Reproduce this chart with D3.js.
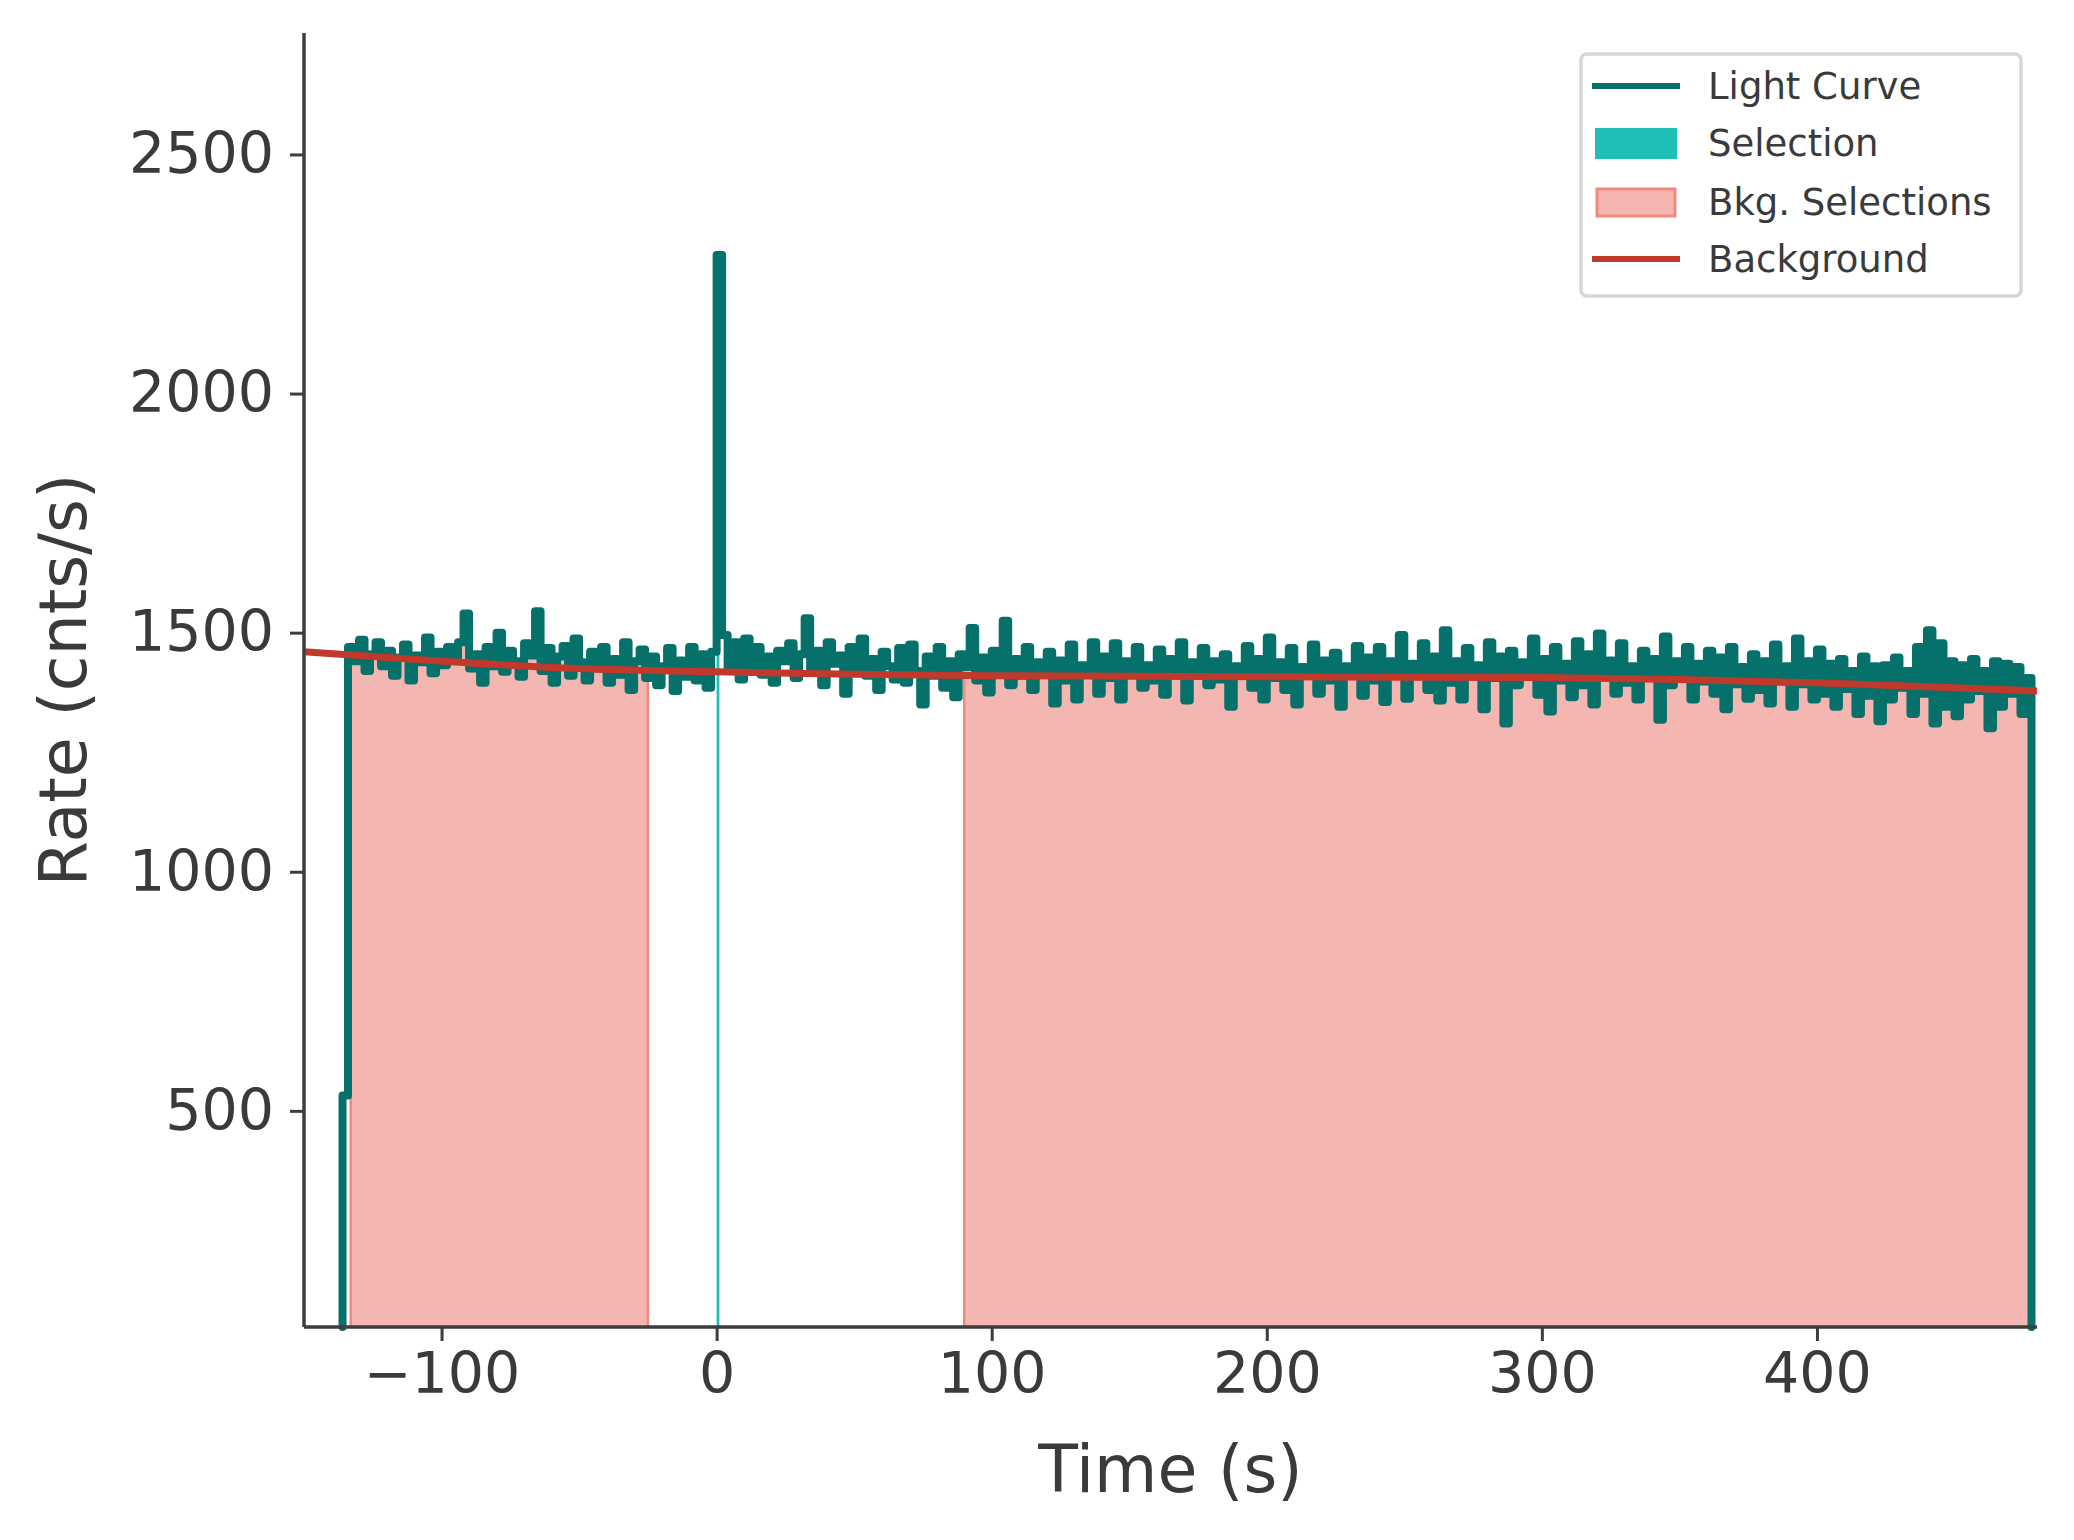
<!DOCTYPE html>
<html>
<head>
<meta charset="utf-8">
<script src="https://cdn.jsdelivr.net/npm/d3@7"></script>
<style>
  body { margin: 0; background: #fff; }
  text { font-family: "DejaVu Sans", sans-serif; fill: #3a3a3a; }
</style>
</head>
<body>
<svg id="chart" width="2074" height="1540"></svg>
<script>
// light curve, 2 s bins starting at -136 s
var binStart = -136, binWidth = 2;
var lcRate = [
  532,
  1470,1440,1485,1420,1455,1480,1430,1462,1410,1448,1475,1400,1452,1438,1490,1415,1460,1432,1470,
  1445,1480,1540,1425,1455,1395,1470,1430,1500,1418,1462,1440,1408,1478,1452,1545,1420,1468,1395,1450,
  1472,1410,1488,1438,1400,1460,1425,1470,1395,1445,1412,1480,1380,1440,1465,1405,1450,1390,1430,1468,
  1378,1442,1408,1470,1400,1455,1385,1460,2290,1495,1420,1480,1402,1488,1430,1470,1412,1450,1395,1462,
  1440,1478,1405,1455,1530,1418,1462,1390,1480,1435,1452,1372,1470,1425,1488,1410,1445,1380,1460,1430,
  1402,1468,1395,1475,1420,1350,1450,1410,1470,1385,1440,1365,1455,1428,1510,1400,1448,1375,1462,1420,
  1525,1390,1445,1410,1470,1380,1438,1420,1460,1352,1442,1400,1475,1360,1432,1415,1480,1372,1450,1405,
  1478,1360,1440,1418,1470,1385,1432,1400,1465,1370,1445,1412,1480,1358,1438,1420,1468,1390,1440,1402,
  1455,1345,1430,1410,1472,1385,1445,1360,1490,1405,1438,1380,1468,1350,1428,1415,1475,1372,1442,1400,
  1458,1345,1430,1420,1472,1368,1448,1400,1470,1355,1440,1412,1495,1362,1435,1410,1478,1380,1450,1358,
  1505,1395,1440,1360,1468,1410,1432,1340,1480,1405,1450,1310,1462,1390,1438,1420,1488,1370,1445,1335,
  1470,1400,1435,1365,1482,1390,1455,1350,1498,1410,1442,1372,1478,1395,1430,1360,1462,1405,1445,1318,
  1492,1390,1440,1410,1470,1360,1435,1398,1462,1372,1448,1340,1470,1392,1428,1362,1455,1380,1440,1352,
  1475,1398,1430,1345,1488,1392,1440,1360,1465,1372,1435,1345,1445,1382,1420,1330,1450,1368,1430,1315,
  1432,1360,1448,1385,1420,1330,1470,1372,1505,1310,1478,1345,1440,1325,1432,1360,1445,1378,1420,1300,
  1440,1345,1435,1372,1428,1330,1405
];
var bkgTime = [-150,-100,-50,0,50,100,150,200,250,300,350,400,450,480];
var bkgRate = [1460,1440,1425,1418,1413,1410,1409,1408,1407,1406,1402,1395,1385,1378];
var selection = [0, 1];
var bkgSelections = [[-133, -25], [90, 478]];
var xTicks = [-100, 0, 100, 200, 300, 400];
var yTicks = [500, 1000, 1500, 2000, 2500];
var legendLabels = ["Light Curve", "Selection", "Bkg. Selections", "Background"];

var svg = d3.select("#chart");
var pL = 304, pR = 2037, pT = 33, pB = 1327;
var x = d3.scaleLinear().domain([-150, 480]).range([pL, pR]);
var y = d3.scaleLinear().domain([48, 2754]).range([pB, pT]);
var yMin = y.domain()[0];

var pts = lcRate.map(function(v, i) { return [binStart + i * binWidth, v]; });
var tEnd = binStart + lcRate.length * binWidth;
pts.push([tEnd, lcRate[lcRate.length - 1]]);
var linePts = [[binStart, yMin]].concat(pts).concat([[tEnd, yMin]]);

var area = d3.area().curve(d3.curveStepAfter)
  .x(function(d) { return x(d[0]); }).y0(y(yMin)).y1(function(d) { return y(d[1]); });

function clipFor(id, a, b) {
  svg.append("clipPath").attr("id", id).append("rect")
    .attr("x", x(a)).attr("width", x(b) - x(a)).attr("y", 0).attr("height", 1540);
}

bkgSelections.forEach(function(s, i) {
  clipFor("bk" + i, s[0], s[1]);
  svg.append("path").datum(pts).attr("d", area)
    .attr("clip-path", "url(#bk" + i + ")").attr("fill", "#f4b6b0");
  s.forEach(function(t) {
    svg.append("line").attr("x1", x(t)).attr("x2", x(t)).attr("y1", y(yMin))
      .attr("y2", y(pts[Math.min(Math.floor((t - binStart) / binWidth), pts.length - 1)][1]))
      .attr("stroke", "#f0897e").attr("stroke-width", 2.5);
  });
});

clipFor("sel", selection[0], selection[1]);
svg.append("path").datum(pts).attr("d", area)
  .attr("clip-path", "url(#sel)").attr("fill", "#1fbfb8");

svg.append("path").datum(linePts)
  .attr("d", d3.line().curve(d3.curveStepAfter).x(function(d) { return x(d[0]); }).y(function(d) { return y(d[1]); }))
  .attr("fill", "none").attr("stroke", "#06706a").attr("stroke-width", 8)
  .attr("stroke-linejoin", "round").attr("stroke-linecap", "round");

svg.append("path").datum(d3.zip(bkgTime, bkgRate))
  .attr("d", d3.line().curve(d3.curveMonotoneX).x(function(d) { return x(d[0]); }).y(function(d) { return y(d[1]); }))
  .attr("fill", "none").attr("stroke", "#c0392b").attr("stroke-width", 7);

// axes
var xAxis = svg.append("g").attr("transform", "translate(0," + pB + ")")
  .call(d3.axisBottom(x).tickValues(xTicks).tickSize(14).tickPadding(12).tickFormat(function(d) { return d < 0 ? "\u2212" + (-d) : d; }));
var yAxis = svg.append("g").attr("transform", "translate(" + pL + ",0)")
  .call(d3.axisLeft(y).tickValues(yTicks).tickSize(14).tickPadding(16).tickFormat(d3.format("d")));
[xAxis, yAxis].forEach(function(g) {
  g.select(".domain").attr("stroke", "#3d3d3d").attr("stroke-width", 3.5);
  g.selectAll(".tick line").attr("stroke", "#3d3d3d").attr("stroke-width", 3);
  g.selectAll(".tick text").attr("font-size", 57).attr("fill", "#3a3a3a").style("font-family", "DejaVu Sans");
});
xAxis.select(".domain").attr("d", "M" + pL + ",0H" + pR);
yAxis.select(".domain").attr("d", "M0," + pT + "V" + pB);

svg.append("text").attr("x", (pL + pR) / 2).attr("y", 1492).attr("text-anchor", "middle")
  .attr("font-size", 65).text("Time (s)");
svg.append("text").attr("transform", "translate(86," + (pT + pB) / 2 + ") rotate(-90)")
  .attr("text-anchor", "middle").attr("font-size", 65).text("Rate (cnts/s)");

// legend
var lg = svg.append("g");
lg.append("rect").attr("x", 1581).attr("y", 54).attr("width", 440).attr("height", 242).attr("rx", 6)
  .attr("fill", "#fff").attr("stroke", "#d6d6d6").attr("stroke-width", 3.5);
var rowY = [86, 143, 202, 259];
legendLabels.forEach(function(lab, i) {
  var yy = rowY[i];
  if (i === 0 || i === 3) {
    lg.append("line").attr("x1", 1592).attr("x2", 1680).attr("y1", yy).attr("y2", yy)
      .attr("stroke", i === 0 ? "#06706a" : "#c0392b").attr("stroke-width", 6);
  } else if (i === 1) {
    lg.append("rect").attr("x", 1595).attr("y", yy - 15).attr("width", 82).attr("height", 31).attr("fill", "#1fbfb8");
  } else {
    lg.append("rect").attr("x", 1597).attr("y", yy - 13).attr("width", 78).attr("height", 27)
      .attr("fill", "#f4b6b0").attr("stroke", "#f0897e").attr("stroke-width", 3);
  }
  lg.append("text").attr("x", 1708).attr("y", yy + 13).attr("font-size", 37).attr("fill", "#111").text(lab);
});
</script>
</body>
</html>
